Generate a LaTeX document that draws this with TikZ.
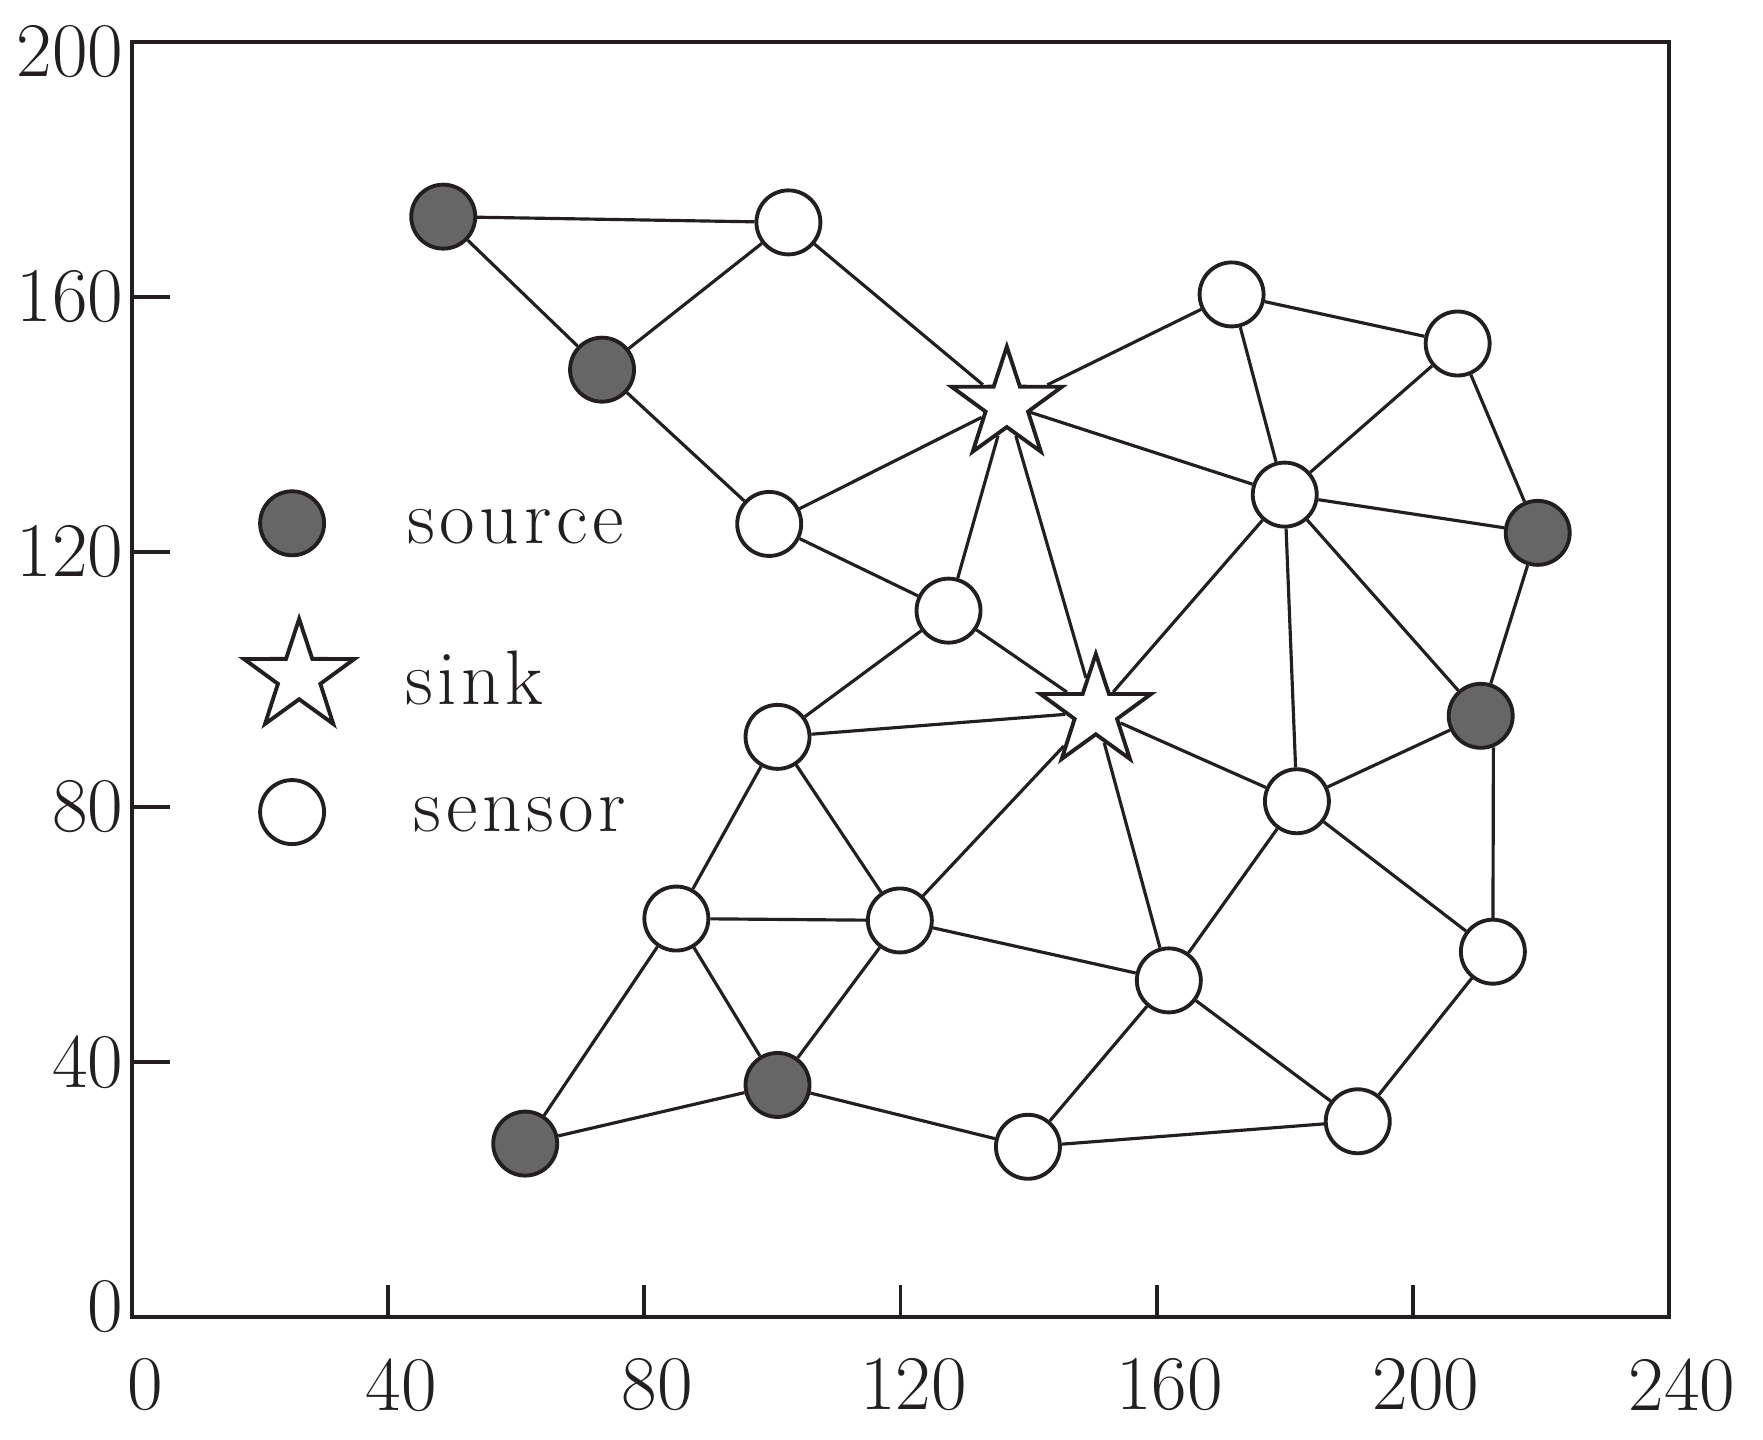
\documentclass[tikz,border=0pt]{standalone}
\usepackage{fontspec}
\newfontfamily\legfont{Latin Modern Roman}[LetterSpace=6]
\usetikzlibrary{shapes.geometric}
\definecolor{ink}{RGB}{35,31,32}
\definecolor{srcfill}{RGB}{102,102,102}
\begin{document}
\begin{tikzpicture}[x=0.06404cm, y=0.06375cm,
  src/.style={circle, draw=ink, line width=1.1pt, fill=srcfill, minimum size=0.64cm, inner sep=0pt},
  sen/.style={circle, draw=ink, line width=1.1pt, fill=white, minimum size=0.64cm, inner sep=0pt},
  snk/.style={star, star points=5, star point ratio=2.6, draw=ink, line width=1.1pt, fill=white, minimum size=1.16cm, inner sep=0pt},
  link/.style={draw=ink, line width=0.9pt},
  lbl/.style={font=\fontsize{22}{26}\selectfont, text=ink, inner sep=0pt},
  legtxt/.style={lbl, font=\legfont\fontsize{22}{26}\selectfont, anchor=base west}
]
\useasboundingbox (-1.32cm,-1.23cm) rectangle (16.31cm,13.17cm);
% frame and ticks
\draw[ink, line width=1.2pt] (0,0) rectangle (240,200);
\foreach \x in {40,80,...,200} \draw[ink, line width=1.1pt] (\x,0) -- ++(0,0.32cm);
\foreach \y in {40,80,...,200} \draw[ink, line width=1.1pt] (0,\y) -- ++(0.38cm,0);
\foreach \x in {0,40,...,240} \node[lbl, xshift=0.13cm, yshift=-0.68cm] (xl\x) at (\x,0) {\x};
\foreach \y/\dy in {0/0.1,40/0,80/0,120/0,160/0,200/-0.1}
  \node[lbl, anchor=east, xshift=-0.08cm, yshift=\dy cm] (yl\y) at (0,\y) {\y};
% legend
\node[src] (legsrc) at (25.0,124.5) {};
\node[snk] (legsnk) at (26.1,100.4) {};
\node[sen] (legsen) at (25.0,79.2) {};
\node[legtxt] (txtsrc) at (42.9,121.4) {source};
\node[legtxt] (txtsnk) at (42.6,96.0) {sink};
\node[legtxt] (txtsen) at (43.9,76.1) {sensor};
% sources
\node[src] (srcA) at (48.6,172.6) {};
\node[src] (srcB) at (73.4,148.6) {};
\node[src] (srcC) at (219.5,123.0) {};
\node[src] (srcD) at (210.6,94.3) {};
\node[src] (srcE) at (100.8,36.4) {};
\node[src] (srcF) at (61.4,27.2) {};
% sinks
\node[snk] (sinkA) at (136.6,143.1) {};
\node[snk] (sinkB) at (150.5,94.9) {};
% sensors
\node[sen] (snA) at (102.5,171.7) {};
\node[sen] (snB) at (99.5,124.4) {};
\node[sen] (snC) at (171.7,160.4) {};
\node[sen] (snD) at (207.0,152.7) {};
\node[sen] (snE) at (180.0,129.0) {};
\node[sen] (snF) at (127.5,110.8) {};
\node[sen] (snG) at (100.8,91.0) {};
\node[sen] (snH) at (181.9,80.9) {};
\node[sen] (snI) at (85.0,62.5) {};
\node[sen] (snJ) at (119.9,62.2) {};
\node[sen] (snK) at (161.9,52.8) {};
\node[sen] (snL) at (212.5,57.3) {};
\node[sen] (snM) at (139.9,26.7) {};
\node[sen] (snN) at (191.4,30.7) {};
% links
\draw[link] (srcA) -- (snA);
\draw[link] (srcA) -- (srcB);
\draw[link] (srcB) -- (snA);
\draw[link] (snA) -- (sinkA);
\draw[link] (srcB) -- (snB);
\draw[link] (snB) -- (sinkA);
\draw[link] (snB) -- (snF);
\draw[link] (snF) -- (sinkA);
\draw[link] (snF) -- (sinkB);
\draw[link] (sinkA) -- (sinkB);
\draw[link] (sinkA) -- (snC);
\draw[link] (sinkA) -- (snE);
\draw[link] (snC) -- (snD);
\draw[link] (snC) -- (snE);
\draw[link] (snD) -- (snE);
\draw[link] (snD) -- (srcC);
\draw[link] (snE) -- (srcC);
\draw[link] (snE) -- (sinkB);
\draw[link] (snE) -- (snH);
\draw[link] (snE) -- (srcD);
\draw[link] (srcC) -- (srcD);
\draw[link] (srcD) -- (snH);
\draw[link] (srcD.-68) -- (snL);
\draw[link] (snF) -- (snG);
\draw[link] (snG) -- (sinkB);
\draw[link] (sinkB) -- (snH);
\draw[link] (sinkB) -- (snJ);
\draw[link] (sinkB) -- (snK);
\draw[link] (snG) -- (snI);
\draw[link] (snG) -- (snJ);
\draw[link] (snI) -- (snJ);
\draw[link] (snI) -- (srcF);
\draw[link] (snI) -- (srcE);
\draw[link] (snJ) -- (srcE);
\draw[link] (snJ) -- (snK);
\draw[link] (snH) -- (snK);
\draw[link] (snH) -- (snL);
\draw[link] (snL) -- (snN);
\draw[link] (snK) -- (snN);
\draw[link] (snK) -- (snM);
\draw[link] (srcF) -- (srcE);
\draw[link] (srcE) -- (snM);
\draw[link] (snM) -- (snN);
\end{tikzpicture}
\end{document}
